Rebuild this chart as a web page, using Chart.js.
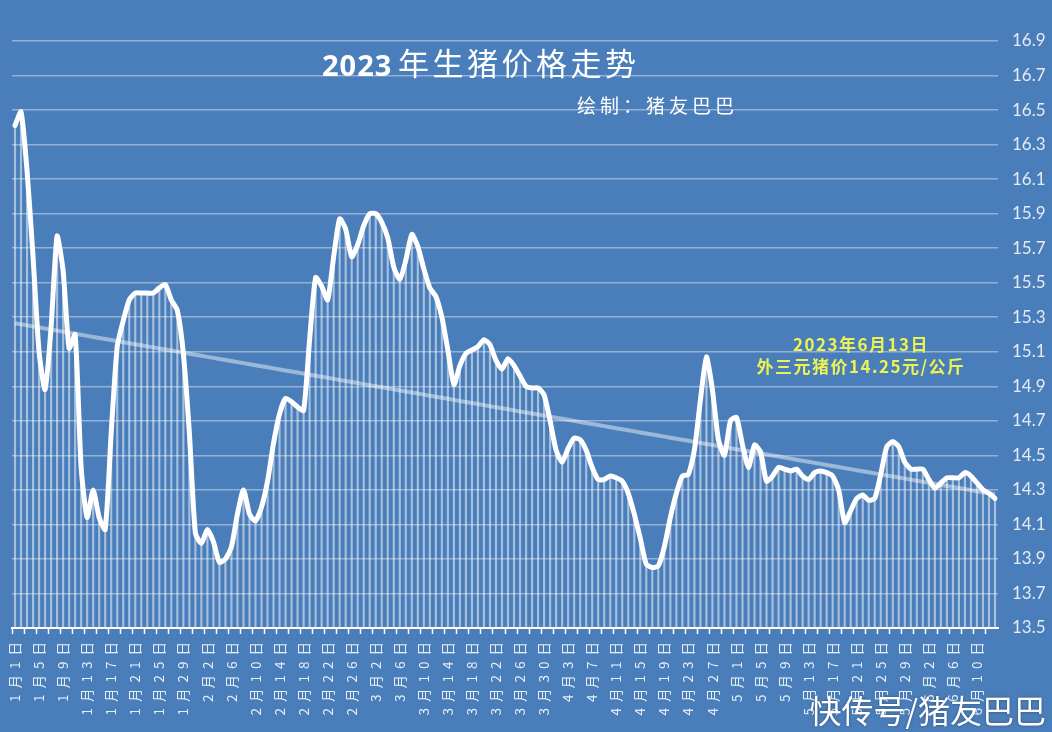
<!DOCTYPE html>
<html><head><meta charset="utf-8">
<script src="https://cdn.jsdelivr.net/npm/chart.js@4.4.0/dist/chart.umd.min.js"></script>
<style>html,body{margin:0;padding:0;background:#4a7eba;overflow:hidden}canvas{display:block}</style>
</head><body><canvas id="c" width="1052" height="732"></canvas>
<script>
// ---- data ----
const months = [1, 2, 3, 4, 5, 6];
const daysInMonth = [31, 28, 31, 30, 31, 13];
const categories = [];
months.forEach((m, k) => { for (let d = 1; d <= daysInMonth[k]; d++) categories.push(m + '月' + d + '日'); });

const prices = [
 16.41,16.49,16.15,15.65,15.10,14.88,15.24,15.77,15.57,15.12,
 15.20,14.43,14.14,14.30,14.14,14.07,14.63,15.13,15.28,15.40,
 15.44,15.44,15.44,15.44,15.47,15.49,15.40,15.34,15.09,14.63,
 14.05,13.99,14.07,14.00,13.88,13.90,13.97,14.16,14.30,14.16,
 14.12,14.20,14.35,14.57,14.74,14.83,14.81,14.78,14.76,15.17,
 15.53,15.48,15.40,15.65,15.87,15.81,15.65,15.72,15.83,15.90,
 15.90,15.85,15.76,15.59,15.52,15.63,15.78,15.71,15.58,15.47,
 15.42,15.30,15.11,14.91,15.02,15.09,15.11,15.13,15.17,15.14,
 15.05,15.00,15.06,15.02,14.96,14.90,14.89,14.89,14.85,14.70,
 14.53,14.46,14.54,14.60,14.59,14.53,14.43,14.36,14.36,14.38,
 14.37,14.35,14.28,14.16,14.02,13.87,13.85,13.86,13.97,14.14,
 14.28,14.38,14.39,14.53,14.82,15.07,14.88,14.59,14.50,14.70,
 14.72,14.56,14.43,14.56,14.52,14.35,14.38,14.43,14.42,14.41,
 14.42,14.38,14.36,14.40,14.41,14.40,14.38,14.30,14.11,14.18,
 14.25,14.27,14.24,14.25,14.39,14.55,14.58,14.55,14.46,14.42,
 14.42,14.42,14.36,14.31,14.34,14.37,14.37,14.37,14.40,14.38,
 14.34,14.30,14.28,14.25
];
const yMin = 13.5, yMax = 16.9, yStep = 0.2;
const labelEvery = 4;
const titleText = '2023年生猪价格走势';
const subtitleText = '绘制：猪友巴巴';
const noteLines = ['2023年6月13日', '外三元猪价14.25元/公斤'];
const watermarkText = '快传号/猪友巴巴';

// linear trend (least squares) of the price series
const n = prices.length;
let sx = 0, sy = 0, sxy = 0, sxx = 0;
prices.forEach((v, i) => { sx += i; sy += v; sxy += i * v; sxx += i * i; });
const slope = (n * sxy - sx * sy) / (n * sxx - sx * sx);
const icpt = (sy - slope * sx) / n;
const trend = prices.map((v, i) => icpt + slope * i);

const BG = '#4a7eba';
const CJK = "'Noto Sans CJK SC', sans-serif";

const deco = {
  id: 'deco',
  beforeDraw(chart) {
    const ctx = chart.ctx;
    ctx.save();
    ctx.fillStyle = BG;
    ctx.fillRect(0, 0, chart.width, chart.height);
    ctx.restore();
    ctx.letterSpacing = '6px';
  },
  afterDatasetsDraw(chart) { chart.ctx.letterSpacing = '0px'; },
  afterDraw(chart) {
    const ctx = chart.ctx;
    ctx.save();
    ctx.textBaseline = 'alphabetic';
    ctx.textAlign = 'left';
    ctx.fillStyle = '#ffffff';
    const m = titleText.match(/^(\d+)(.*)$/);
    ctx.font = "bold 29px 'Open Sans', sans-serif";
    ctx.letterSpacing = '1px';
    ctx.fillText(m[1], 322, 76);
    ctx.font = "31px " + CJK;
    ctx.letterSpacing = '3.5px';
    ctx.fillText(m[2], 398, 75);
    ctx.font = "19px " + CJK;
    ctx.letterSpacing = '4px';
    ctx.fillText(subtitleText, 577, 113);

    ctx.textAlign = 'center';
    ctx.fillStyle = 'rgb(236,242,84)';
    ctx.font = "bold 17px " + CJK;
    ctx.letterSpacing = '1.5px';
    ctx.fillText(noteLines[0], 861, 351);
    ctx.fillText(noteLines[1], 861, 373);

    ctx.textAlign = 'right';
    ctx.fillStyle = '#ffffff';
    ctx.shadowColor = 'rgba(0,0,0,0.35)';
    ctx.shadowBlur = 3;
    ctx.font = "32px " + CJK;
    ctx.letterSpacing = '0px';
    ctx.fillText(watermarkText, 1046, 723);
    ctx.restore();
  }
};

new Chart(document.getElementById('c'), {
  type: 'bar',
  data: {
    labels: categories,
    datasets: [
      { type: 'line', data: prices, borderColor: '#ffffff', borderWidth: 5, pointRadius: 0,
        tension: 0.2, borderJoinStyle: 'round', borderCapStyle: 'round', order: 1 },
      { type: 'line', data: trend, borderColor: 'rgba(255,255,255,0.45)', borderWidth: 4,
        pointRadius: 0, order: 2 },
      { type: 'bar', data: prices, base: yMin, backgroundColor: 'rgba(255,255,255,0.5)',
        barThickness: 1.5, order: 3 }
    ]
  },
  options: {
    responsive: false,
    animation: false,
    layout: { padding: { left: 12, top: 41, right: 0, bottom: 0 } },
    plugins: { legend: { display: false }, tooltip: { enabled: false } },
    scales: {
      x: {
        offset: true,
        grid: { display: true, drawOnChartArea: false, drawTicks: true, tickLength: 6,
                tickWidth: 1.5, tickColor: (c) => (c.index % 2 === 0 ? '#ffffff' : 'rgba(0,0,0,0)') },
        border: { display: true, color: '#ffffff', width: 2 },
        ticks: {
          autoSkip: false, maxRotation: 90, minRotation: 90, padding: 2,
          color: '#e8eef7', font: { family: CJK, size: 13.5 },
          callback: (v, i) => (i % labelEvery === 0 ? categories[i] : '')
        },
        afterFit: (s) => { s.height = 104; }
      },
      y: {
        position: 'right',
        min: yMin, max: yMax,
        grid: { color: 'rgba(255,255,255,0.4)', lineWidth: 1.5, drawTicks: false },
        border: { display: false },
        ticks: { stepSize: yStep, padding: 14, color: '#e4ebf5', z: 1,
                 font: { family: "Lato, sans-serif", size: 17 },
                 callback: (v) => Number(v).toFixed(1) },
        afterFit: (s) => { s.width = 54; }
      }
    }
  },
  plugins: [deco]
});
</script>
</body></html>
